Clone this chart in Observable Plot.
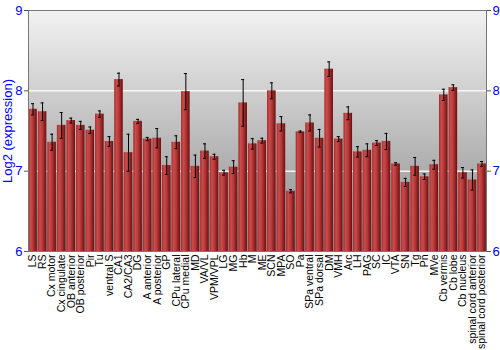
<!DOCTYPE html>
<html>
<head>
<meta charset="utf-8">
<script src="https://cdn.jsdelivr.net/npm/d3@7"></script>
<script src="https://cdn.jsdelivr.net/npm/@observablehq/plot@0.6"></script>
<style>
  body { margin: 0; background: #fff; }
  #chart { width: 500px; height: 350px; }
</style>
</head>
<body>
<div id="chart"></div>
<script>
const regions = ["LS","RS","Cx motor","Cx cingulate","OB anterior","OB posterior","Pir","Tu","ventral S","CA1","CA2/CA3","DG","A anterior","A posterior","GP","CPu lateral","CPu medial","MD","VA/VL","VPM/VPL","LG","MG","Hb","M","ME","SCN","MPA","SO","Pa","SPa ventral","SPa dorsal","DM","VMH","Arc","LH","PAG","SC","IC","VTA","SN","Tg","Pn","MVe","Cb vermis","Cb lobe","Cb nucleus","spinal cord anterior","spinal cord posterior"];
const expression = [7.77,7.74,7.36,7.57,7.63,7.57,7.51,7.71,7.37,8.14,7.23,7.62,7.40,7.41,7.07,7.36,7.99,7.06,7.25,7.18,6.98,7.05,7.85,7.34,7.38,8.00,7.59,6.75,7.49,7.60,7.41,8.27,7.40,7.72,7.24,7.26,7.35,7.37,7.09,6.86,7.06,6.93,7.08,7.95,8.04,6.98,6.89,7.09];
const errors = [0.07,0.11,0.10,0.16,0.03,0.05,0.04,0.04,0.06,0.08,0.23,0.025,0.02,0.12,0.11,0.08,0.225,0.14,0.09,0.03,0.03,0.08,0.29,0.065,0.03,0.10,0.09,0.02,0.01,0.10,0.11,0.09,0.03,0.08,0.065,0.08,0.03,0.10,0.015,0.05,0.11,0.035,0.055,0.07,0.035,0.065,0.125,0.03];
const yTicks = [6,7,8,9];
const gridLines = [7,8];

const data = regions.map((r, i) => ({region: r, value: expression[i], err: errors[i]}));

const plot = Plot.plot({
  width: 500,
  height: 350,
  marginLeft: 28,
  marginRight: 14,
  marginTop: 10,
  marginBottom: 99,
  style: {fontFamily: "'Liberation Sans', Arial, sans-serif", background: "#fff"},
  x: {type: "band", domain: regions, paddingInner: 0.1, paddingOuter: 0.02, round: false},
  y: {domain: [6, 9]},
  marks: [
    Plot.frame({fill: "url(#bgGrad)", stroke: "none"}),
    Plot.ruleY(gridLines, {stroke: "white", strokeWidth: 1.5, strokeOpacity: 0.85}),
    Plot.barY(data, {x: "region", y1: 6, y2: "value", fill: "url(#barGrad)"}),
    Plot.ruleX(data, {x: "region", y1: d => d.value - d.err, y2: d => d.value + d.err, stroke: "black", strokeWidth: 1}),
    Plot.tickY(data, {x: "region", y: d => d.value - d.err, stroke: "black", insetLeft: 2.8, insetRight: 2.8}),
    Plot.tickY(data, {x: "region", y: d => d.value + d.err, stroke: "black", insetLeft: 2.8, insetRight: 2.8}),
    Plot.frame({stroke: "#777", fill: "none"}),
    Plot.axisY({anchor: "left", ticks: yTicks, tickFormat: d => d, tickSize: 4, tickPadding: 2, fill: "blue", stroke: "#555", fontSize: 13,
      label: "Log2 (expression)", labelAnchor: "center", labelArrow: false, labelOffset: 26}),
    Plot.axisY({anchor: "right", ticks: yTicks, tickFormat: d => d, tickSize: 4, tickPadding: 2, fill: "blue", stroke: "#555", fontSize: 13, label: null}),
    Plot.axisX({tickRotate: -90, tickSize: 0, tickPadding: 3, fontSize: 10.5, fill: "black", label: null})
  ]
});

const svg = d3.select(plot.tagName.toLowerCase() === "svg" ? plot : plot.querySelector("svg"));
const defs = svg.insert("defs", ":first-child");
const bg = defs.append("linearGradient").attr("id", "bgGrad").attr("x1", 0).attr("y1", 0).attr("x2", 0).attr("y2", 1);
bg.append("stop").attr("offset", "0%").attr("stop-color", "#f2f2f2");
bg.append("stop").attr("offset", "100%").attr("stop-color", "#8a8a8a");
const bar = defs.append("linearGradient").attr("id", "barGrad").attr("x1", 0).attr("y1", 0).attr("x2", 1).attr("y2", 0);
bar.append("stop").attr("offset", "0%").attr("stop-color", "#a02a2a");
bar.append("stop").attr("offset", "25%").attr("stop-color", "#cc4c4c");
bar.append("stop").attr("offset", "55%").attr("stop-color", "#b53838");
bar.append("stop").attr("offset", "100%").attr("stop-color", "#6a0e0e");

document.getElementById("chart").appendChild(plot);
</script>
</body>
</html>
